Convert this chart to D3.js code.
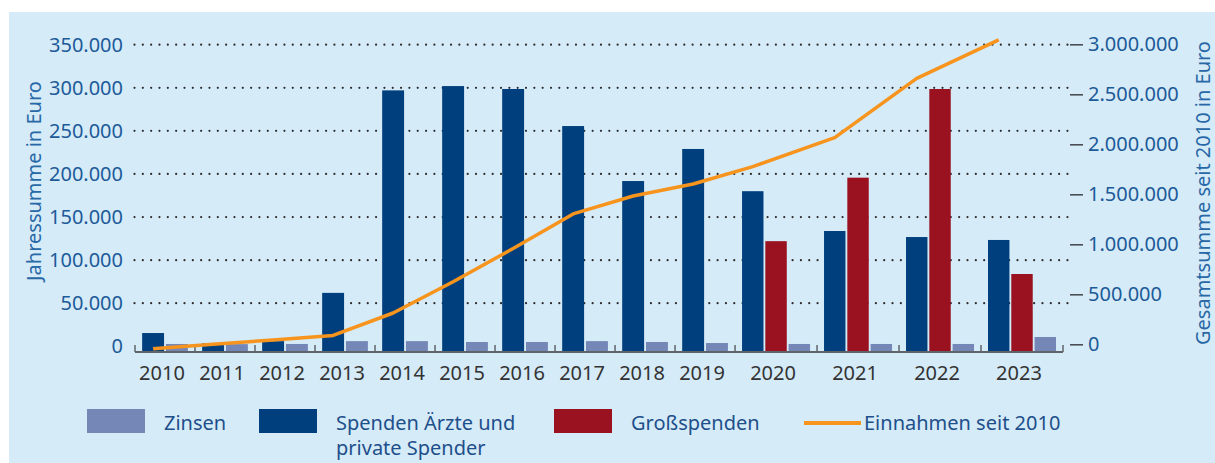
<!DOCTYPE html>
<html>
<head>
<meta charset="utf-8">
<script src="https://cdn.jsdelivr.net/npm/d3@7"></script>
<style>
  body { margin: 0; background: #fff; }
  text { font-family: "Noto Sans", "Open Sans", sans-serif; }
</style>
</head>
<body>
<div id="chart"></div>
<script>
// values
const years = [2010, 2011, 2012, 2013, 2014, 2015, 2016, 2017, 2018, 2019, 2020, 2021, 2022, 2023];
const spenden = [15400, 3500, 6000, 62000, 297000, 302000, 298600, 255600, 191800, 229000, 180000, 133800, 126800, 123400];
const gross = [null, null, null, null, null, null, null, null, null, null, 122000, 195700, 298600, 83900];
const zinsen = [2700, 2500, 2700, 6000, 6000, 5000, 5000, 6000, 5000, 3800, 2700, 2700, 2700, 10800];
const gesamt = [-45000, 0, 44000, 89000, 313000, 625000, 958000, 1304000, 1483000, 1603000, 1777000, 2067000, 2659000, 3045000];
const leftTicks = [0, 50000, 100000, 150000, 200000, 250000, 300000, 350000];
const rightTicks = [0, 500000, 1000000, 1500000, 2000000, 2500000, 3000000];

const legendItems = [
  { key: "zinsen", label: ["Zinsen"] },
  { key: "spenden", label: ["Spenden Ärzte und", "private Spender"] },
  { key: "gross", label: ["Großspenden"] },
  { key: "gesamt", label: ["Einnahmen seit 2010"] }
];

const colors = {
  spenden: "#003f7e",
  gross: "#9a111f",
  zinsen: "#7487b6",
  gesamt: "#f7941d"
};

const W = 1215, H = 463;
const plot = { left: 135, right: 1063, baseY: 352 };

const de = d3.formatLocale({ decimal: ",", thousands: ".", grouping: [3], currency: ["", " €"] });
const fmt = de.format(",");

const svg = d3.select("#chart").append("svg")
  .attr("width", W)
  .attr("height", H);

svg.append("rect")
  .attr("x", 9).attr("y", 12)
  .attr("width", W - 9).attr("height", H - 12)
  .attr("fill", "#d5ebf8");

const yL = d3.scaleLinear().domain([0, 350000]).range([346.3, 44.7]);
const yR = d3.scaleLinear().domain([0, 3000000]).range([344.3, 44.3]);

// each year gets room for its bars plus some padding
const groups = years.map((year, i) => ({
  year,
  i,
  keys: gross[i] == null ? ["spenden", "zinsen"] : ["spenden", "gross", "zinsen"]
}));
let acc = 0;
groups.forEach(g => {
  g.u0 = acc;
  acc += g.keys.length + 0.73;
  g.u1 = acc;
});
const xUnit = d3.scaleLinear().domain([0, acc]).range([plot.left, plot.right]);
groups.forEach(g => {
  g.x0 = xUnit(g.u0);
  g.x1 = xUnit(g.u1);
  g.inner = d3.scaleBand().domain(g.keys).range([g.x0, g.x1]).paddingInner(0.08).paddingOuter(0.3);
});

const valueOf = { spenden, gross, zinsen };

// dotted grid
svg.append("g")
  .selectAll("line")
  .data(leftTicks.filter(d => d > 0))
  .join("line")
  .attr("x1", 134.5)
  .attr("x2", 1068)
  .attr("y1", d => yL(d))
  .attr("y2", d => yL(d))
  .attr("stroke", "#2b2b2b")
  .attr("stroke-width", 2.2)
  .attr("stroke-linecap", "round")
  .attr("stroke-dasharray", "0 8.33");

// bars
const barG = svg.append("g")
  .selectAll("g")
  .data(groups)
  .join("g");

barG.selectAll("rect")
  .data(g => g.keys.map(k => ({ key: k, g, v: valueOf[k][g.i] })))
  .join("rect")
  .attr("x", d => d.g.inner(d.key))
  .attr("width", d => d.g.inner.bandwidth())
  .attr("y", d => yL(d.v))
  .attr("height", d => plot.baseY - yL(d.v))
  .attr("fill", d => colors[d.key]);

// category axis
svg.append("line")
  .attr("x1", plot.left).attr("x2", plot.right)
  .attr("y1", plot.baseY).attr("y2", plot.baseY)
  .attr("stroke", "#5f6468")
  .attr("stroke-width", 2);

const bounds = groups.map(g => g.x0).concat([groups[groups.length - 1].x1]);
svg.append("g")
  .selectAll("line")
  .data(bounds)
  .join("line")
  .attr("x1", d => d).attr("x2", d => d)
  .attr("y1", plot.baseY - 7).attr("y2", plot.baseY)
  .attr("stroke", "#5f6468")
  .attr("stroke-width", 1.5);

svg.append("g")
  .selectAll("text")
  .data(groups)
  .join("text")
  .attr("x", g => (g.x0 + g.x1) / 2 - 3)
  .attr("y", 380)
  .attr("text-anchor", "middle")
  .attr("font-size", 20)
  .attr("fill", "#333")
  .text(g => g.year);

// left axis
const leftAxis = svg.append("g")
  .attr("transform", "translate(134,0)")
  .call(d3.axisLeft(yL).tickValues(leftTicks).tickSize(0).tickPadding(11).tickFormat(fmt));
leftAxis.select(".domain").remove();
leftAxis.selectAll("text")
  .attr("font-size", 20)
  .attr("font-family", "Noto Sans")
  .attr("fill", "#1d5a98");

// right axis
const rightAxis = svg.append("g")
  .attr("transform", "translate(1070,0)")
  .call(d3.axisRight(yR).tickValues(rightTicks).tickSize(13).tickPadding(5).tickFormat(fmt));
rightAxis.select(".domain").remove();
rightAxis.selectAll("line").attr("stroke", "#4a4f55").attr("stroke-width", 1.6);
rightAxis.selectAll("text")
  .attr("font-size", 20)
  .attr("font-family", "Noto Sans")
  .attr("fill", "#1d5a98");

// axis titles
svg.append("text")
  .attr("transform", "translate(41,181) rotate(-90)")
  .attr("text-anchor", "middle")
  .attr("font-size", 20)
  .attr("fill", "#2868a6")
  .text("Jahressumme in Euro");

svg.append("text")
  .attr("transform", "translate(1210,193) rotate(-90)")
  .attr("text-anchor", "middle")
  .attr("font-size", 20)
  .attr("fill", "#2868a6")
  .text("Gesamtsumme seit 2010 in Euro");

// cumulative line, vertices over the first bar of each year
const line = d3.line()
  .x((d, i) => groups[i].inner("spenden") + groups[i].inner.bandwidth() / 2)
  .y(d => yR(d));

svg.append("path")
  .attr("d", line(gesamt))
  .attr("fill", "none")
  .attr("stroke", colors.gesamt)
  .attr("stroke-width", 3.5)
  .attr("stroke-linejoin", "round");

// legend
const legendX = [87, 259, 554, 804];
const lg = svg.append("g")
  .selectAll("g")
  .data(legendItems)
  .join("g")
  .attr("transform", (d, i) => `translate(${legendX[i]},409)`);

lg.filter(d => d.key !== "gesamt")
  .append("rect")
  .attr("width", 58)
  .attr("height", 24)
  .attr("fill", d => colors[d.key]);

lg.filter(d => d.key === "gesamt")
  .append("line")
  .attr("x1", 0).attr("x2", 57)
  .attr("y1", 14).attr("y2", 14)
  .attr("stroke", colors.gesamt)
  .attr("stroke-width", 4);

lg.append("text")
  .attr("x", d => d.key === "gesamt" ? 60 : 77)
  .attr("y", 21)
  .attr("font-size", 20)
  .attr("fill", "#1e4f8a")
  .selectAll("tspan")
  .data(d => d.label)
  .join("tspan")
  .attr("x", function () { return d3.select(this.parentNode).attr("x"); })
  .attr("dy", (d, i) => i === 0 ? 0 : 25)
  .text(d => d);
</script>
</body>
</html>
